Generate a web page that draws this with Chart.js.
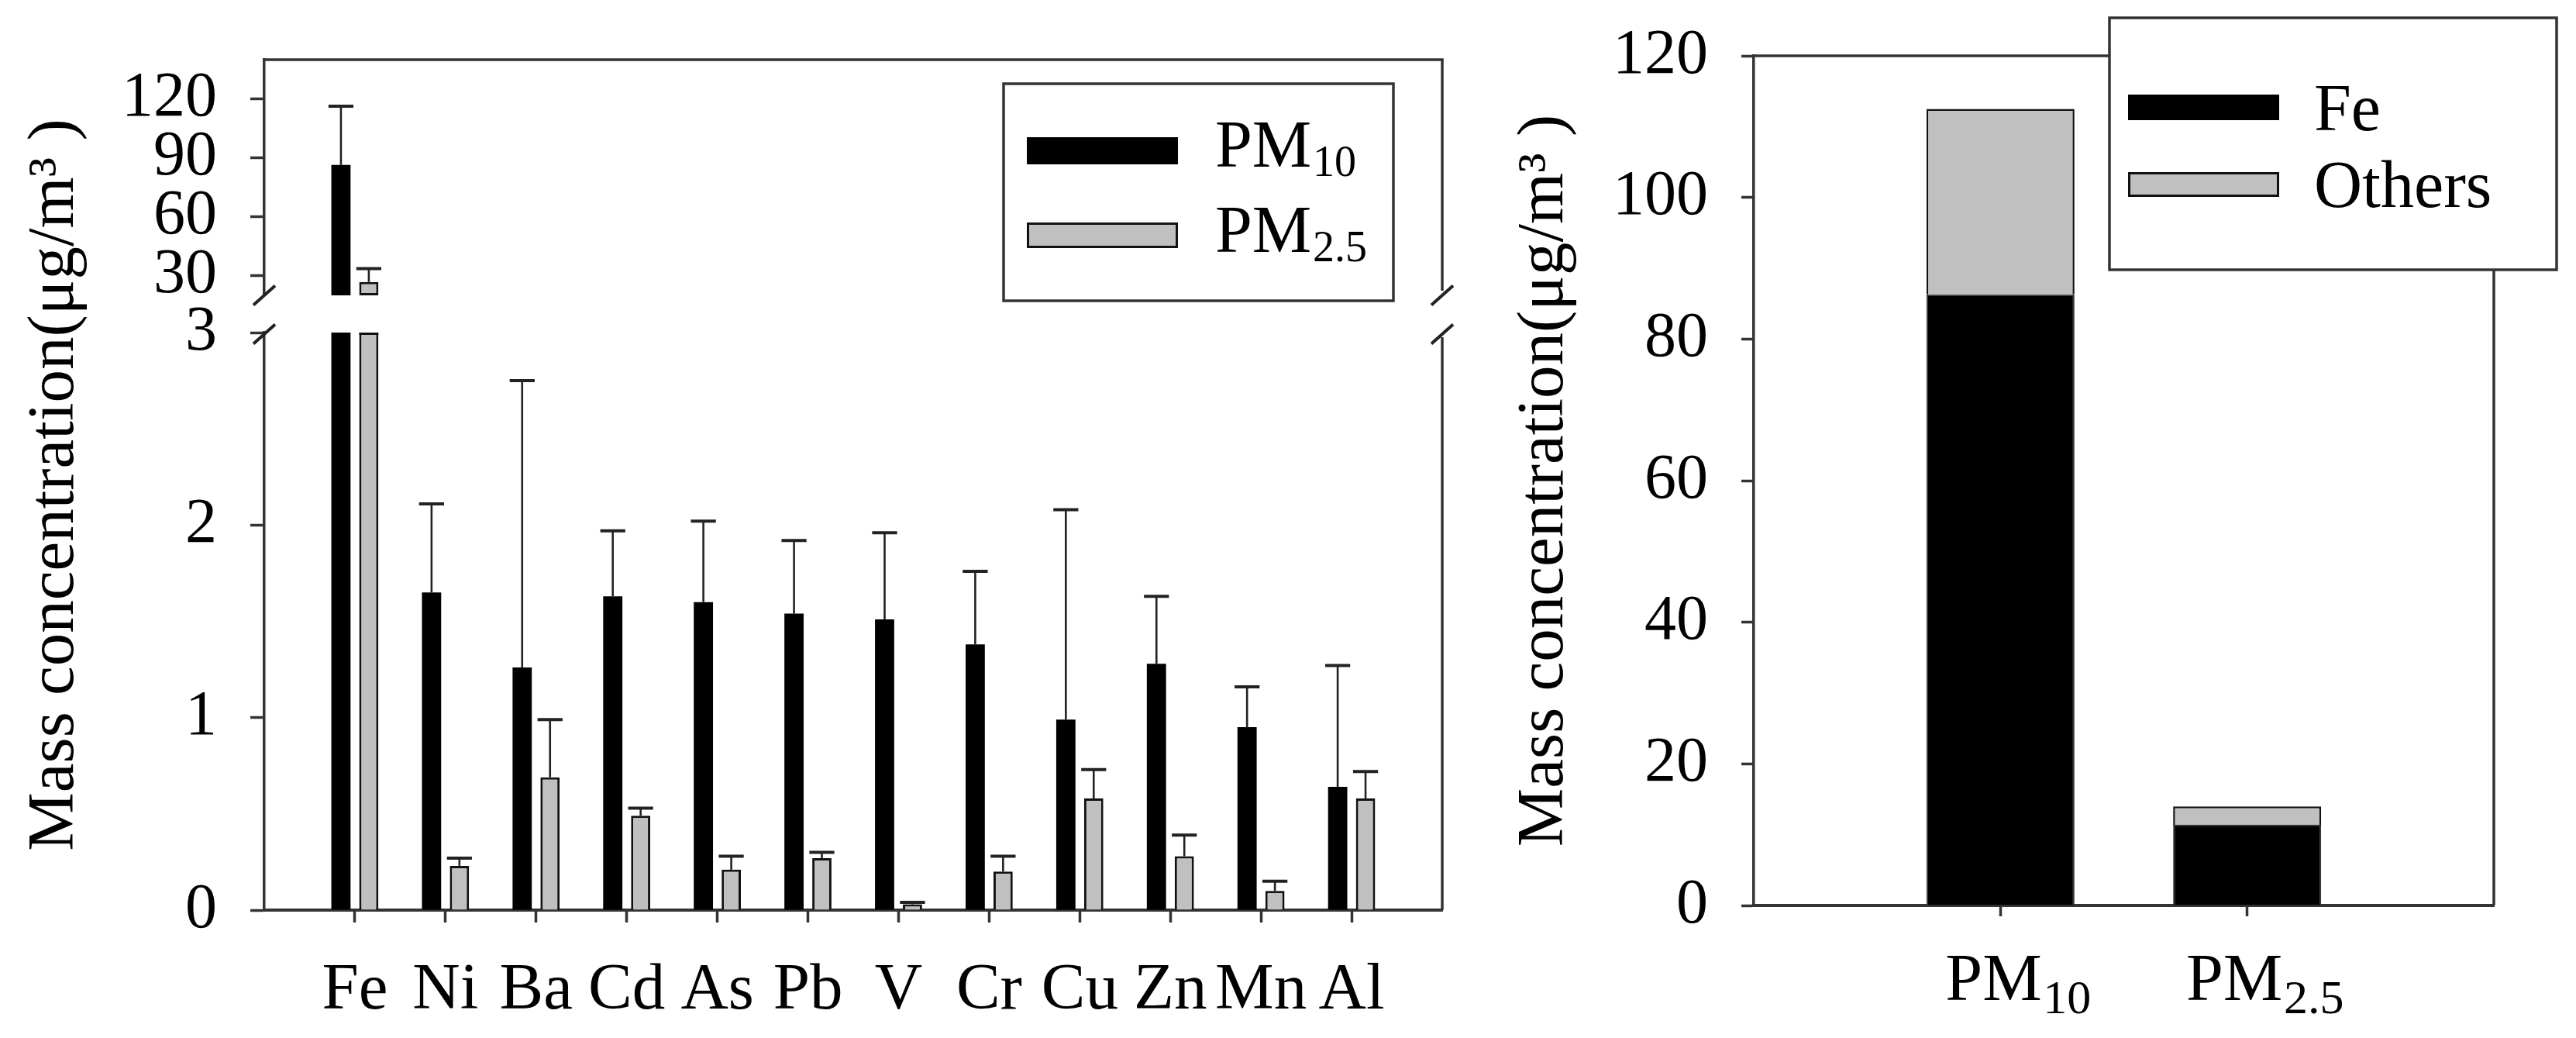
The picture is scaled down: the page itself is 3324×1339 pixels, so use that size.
<!DOCTYPE html>
<html><head><meta charset="utf-8">
<script src="https://cdn.jsdelivr.net/npm/chart.js@4.4.1/dist/chart.umd.min.js"></script>
<style>
html,body{margin:0;padding:0;background:#fff;width:3324px;height:1339px;overflow:hidden;}
canvas{position:absolute;top:0;}
#c1{left:0;}
#c2{left:1900px;}
</style></head><body>
<canvas id="c1" width="1900" height="1339"></canvas>
<canvas id="c2" width="1424" height="1339"></canvas>
<script>
// ---------------- data ----------------
const elements = ['Fe','Ni','Ba','Cd','As','Pb','V','Cr','Cu','Zn','Mn','Al'];
const seriesNames = ['PM10', 'PM2.5'];
const pm10Mean = [86.4, 1.65, 1.26, 1.63, 1.60, 1.54, 1.51, 1.38, 0.99, 1.28, 0.95, 0.64];
const pm10Sd   = [29.9, 0.46, 1.49, 0.34, 0.42, 0.38, 0.45, 0.38, 1.09, 0.35, 0.21, 0.63];
const pm25Mean = [26.8, 0.23, 0.69, 0.49, 0.21, 0.27, 0.03, 0.20, 0.58, 0.28, 0.10, 0.58];
const pm25Sd   = [6.8, 0.04, 0.30, 0.04, 0.07, 0.03, 0.01, 0.08, 0.15, 0.11, 0.05, 0.14];
const upperRange = [20, 140];
const lowerRange = [0, 3];
const upperTicks = [30, 60, 90, 120];
const lowerTicks = [0, 1, 2, 3];

const sizeFractions = ['PM10', 'PM2.5'];
const componentNames = ['Fe', 'Others'];
const feMass = [86.3, 11.4];
const othersMass = [26.2, 2.6];
const rightRange = [0, 120];
const rightTicks = [0, 20, 40, 60, 80, 100, 120];

const yTitleText = 'Mass concentration(\u03BCg/m\u00B3 )';

// ---------------- style ----------------
const FONT = "'Liberation Serif', 'Times New Roman', serif";
Chart.defaults.font.family = FONT;
Chart.defaults.color = '#000';
const BLACK = '#000000', GREY = '#c0c0c0', AXIS = '#333333';

function splitSub(t) {
  const m = String(t).match(/^([A-Za-z]+)(\d[\d.]*)?$/);
  return m ? [m[1], m[2] || ''] : [String(t), ''];
}
function drawRich(ctx, t, x, y, size, subSize, drop, align) {
  const [a, b] = splitSub(t);
  ctx.font = size + 'px ' + FONT;
  const wa = ctx.measureText(a).width;
  ctx.font = subSize + 'px ' + FONT;
  const wb = b ? ctx.measureText(b).width : 0;
  const gap = b ? size * 0.02 : 0;
  const x0 = align === 'center' ? x - (wa + gap + wb) / 2 : x;
  ctx.textAlign = 'left'; ctx.textBaseline = 'alphabetic'; ctx.fillStyle = '#000';
  ctx.font = size + 'px ' + FONT;
  ctx.fillText(a, x0, y);
  if (b) { ctx.font = subSize + 'px ' + FONT; ctx.fillText(b, x0 + wa + gap, y + drop); }
}
function line(ctx, x1, y1, x2, y2) { ctx.beginPath(); ctx.moveTo(x1, y1); ctx.lineTo(x2, y2); ctx.stroke(); }
const pts = arr => arr.map((v, i) => ({x: i + 1, y: v}));
// bars of the upper (broken) segment start at that segment's lower bound
const ptsFrom = (arr, base) => arr.map((v, i) => ({x: i + 1, y: v > base ? [base, v] : null}));
const topOf = y => Array.isArray(y) ? y[1] : y;

// clip each dataset to its own axis segment and draw its error bars
const segmentPlugin = {
  id: 'segments',
  beforeDatasetDraw(chart, args) {
    const ys = args.meta.yScale, a = chart.chartArea, ctx = chart.ctx;
    ctx.save();
    ctx.beginPath();
    ctx.rect(a.left - 60, ys.top, a.width + 120, ys.bottom - ys.top);
    ctx.clip();
  },
  afterDatasetDraw(chart, args) {
    const ctx = chart.ctx, meta = args.meta, ds = chart.data.datasets[args.index];
    const ys = meta.yScale;
    meta.data.forEach((bar, i) => {
      const raw = ds.data[i].y;
      if (raw == null) return;
      const v = topOf(raw);
      // bar cut by the axis break: close it with its outline at the segment top
      if (ds.borderWidth && v > ys.max) {
        ctx.strokeStyle = ds.borderColor; ctx.lineWidth = ds.borderWidth;
        line(ctx, bar.x - bar.width / 2, ys.top + ds.borderWidth / 2, bar.x + bar.width / 2, ys.top + ds.borderWidth / 2);
      }
      const sd = ds.errorBars ? ds.errorBars[i] : null;
      if (sd == null) return;
      const yTop = ys.getPixelForValue(v + sd);
      const half = bar.width * 0.65;
      ctx.strokeStyle = '#222'; ctx.lineCap = 'butt';
      ctx.lineWidth = 2.6; line(ctx, bar.x, ys.getPixelForValue(v), bar.x, yTop);
      ctx.lineWidth = 4; line(ctx, bar.x - half, yTop, bar.x + half, yTop);
    });
    ctx.restore();
  }
};

function makeLegend(cfg) {
  return {
    id: 'boxLegend',
    afterDraw(chart) {
      const ctx = chart.ctx;
      const [l, t, r, b] = cfg.box;
      ctx.save();
      ctx.fillStyle = '#fff'; ctx.fillRect(l, t, r - l, b - t);
      ctx.strokeStyle = AXIS; ctx.lineWidth = 3.5; ctx.strokeRect(l, t, r - l, b - t);
      const items = chart.data.datasets.filter(d => d.inLegend);
      items.forEach((d, k) => {
        const [sy, sh] = cfg.swatches[k];
        ctx.fillStyle = d.backgroundColor;
        ctx.fillRect(cfg.swatchX, sy, cfg.swatchW, sh);
        if (d.legendBorder) {
          const bw = d.legendBorder;
          ctx.strokeStyle = '#111'; ctx.lineWidth = bw;
          ctx.strokeRect(cfg.swatchX + bw / 2, sy + bw / 2, cfg.swatchW - bw, sh - bw);
        }
        drawRich(ctx, d.label, cfg.textX, cfg.baselines[k], cfg.size, cfg.subSize, cfg.drop, 'left');
      });
      ctx.restore();
    }
  };
}

// ---------------- left chart ----------------
const leftFrame = {
  id: 'leftFrame',
  afterDraw(chart) {
    const {ctx, chartArea: a, scales} = chart;
    const up = scales.yTop, low = scales.yLow;
    ctx.save();
    ctx.strokeStyle = AXIS; ctx.lineWidth = 3.5; ctx.lineCap = 'butt';
    line(ctx, a.left - 1.75, a.top, a.right + 1.75, a.top);
    line(ctx, a.right, a.top, a.right, up.bottom - 6);
    line(ctx, a.right, low.top + 6, a.right, a.bottom);
    ctx.strokeStyle = '#222'; ctx.lineWidth = 4;
    [a.left, a.right].forEach(x => {
      [up.bottom, low.top + 2].forEach(y => line(ctx, x - 14, y + 12.5, x + 14, y - 12.5));
    });
    ctx.restore();
  }
};

const yTickFont = {size: 82};
function segScale(range, ticks, weight) {
  return {
    type: 'linear', position: 'left', stack: 'left', stackWeight: weight, weight: 0,
    stacked: false,
    min: range[0], max: range[1],
    afterBuildTicks: s => { s.ticks = ticks.map(v => ({value: v})); },
    ticks: {font: yTickFont, padding: 43, color: '#000', autoSkip: false},
    grid: {display: true, drawOnChartArea: false, drawTicks: true, tickLength: 18, tickWidth: 3.5, tickColor: AXIS},
    border: {display: true, color: AXIS, width: 3.5},
    afterFit: s => { s.width = 211; s.paddingTop = 0; s.paddingBottom = 0; }
  };
}

new Chart(document.getElementById('c1'), {
  type: 'bar',
  data: {
    datasets: [
      {label: seriesNames[0], data: pts(pm10Mean), errorBars: pm10Sd, yAxisID: 'yLow', stack: 'a',
       backgroundColor: BLACK, borderWidth: 0, inLegend: true},
      {label: seriesNames[1], data: pts(pm25Mean), errorBars: pm25Sd, yAxisID: 'yLow', stack: 'b',
       backgroundColor: GREY, borderColor: '#111', borderWidth: 3, legendBorder: 3, inLegend: true},
      {label: seriesNames[0], data: ptsFrom(pm10Mean, upperRange[0]), errorBars: pm10Sd, yAxisID: 'yTop', stack: 'a',
       backgroundColor: BLACK, borderWidth: 0},
      {label: seriesNames[1], data: ptsFrom(pm25Mean, upperRange[0]), errorBars: pm25Sd, yAxisID: 'yTop', stack: 'b',
       backgroundColor: GREY, borderColor: '#111', borderWidth: 3, borderSkipped: false}
    ]
  },
  options: {
    responsive: false, animation: false, devicePixelRatio: 1, events: [],
    categoryPercentage: 0.615, barPercentage: 0.69,
    layout: {padding: {top: 77, right: 39, left: 0, bottom: 0}},
    plugins: {legend: {display: false}, tooltip: {enabled: false}, title: {display: false}},
    scales: {
      x: {
        type: 'linear', position: 'bottom', min: 0, max: elements.length + 1, offset: false,
        afterBuildTicks: s => { s.ticks = elements.map((e, i) => ({value: i + 1})); },
        ticks: {callback: v => elements[v - 1], font: {size: 85}, padding: 38, autoSkip: false,
                maxRotation: 0, minRotation: 0, color: '#000'},
        grid: {display: true, offset: false, drawOnChartArea: false, drawTicks: true, tickLength: 16, tickWidth: 3.5, tickColor: AXIS},
        border: {display: true, color: AXIS, width: 4},
        afterFit: s => { s.height = 165; s.paddingLeft = 0; s.paddingRight = 0; }
      },
      yLow: segScale(lowerRange, lowerTicks, 745),
      yGap: {
        type: 'linear', position: 'left', stack: 'left', stackWeight: 48, weight: 0,
        grid: {display: false, drawTicks: false}, border: {display: false}, ticks: {display: false},
        afterFit: s => { s.width = 211; s.paddingTop = 0; s.paddingBottom = 0; }
      },
      yTop: segScale(upperRange, upperTicks, 304),
      yTitle: {
        type: 'linear', position: 'left', weight: 10,
        grid: {display: false, drawTicks: false}, border: {display: false}, ticks: {display: false},
        title: {display: true, text: yTitleText, font: {size: 85}, color: '#000', padding: {top: 21, bottom: 0}},
        afterFit: s => { s.width = 130; s.paddingTop = 0; s.paddingBottom = 0; }
      }
    }
  },
  plugins: [segmentPlugin, leftFrame, makeLegend({
    box: [1295, 108, 1798, 388], swatchX: 1325, swatchW: 195,
    swatches: [[177, 35], [287, 33]], textX: 1568, baselines: [215, 325],
    size: 86, subSize: 56, drop: 12
  })]
});

// ---------------- right chart ----------------
const rightFrame = {
  id: 'rightFrame',
  afterDraw(chart) {
    const {ctx, chartArea: a, scales} = chart;
    ctx.save();
    ctx.strokeStyle = AXIS; ctx.lineWidth = 3.5;
    line(ctx, a.left - 1.75, a.top, a.right + 1.75, a.top);
    line(ctx, a.right, a.top, a.right, a.bottom);
    // x tick labels with subscripts, positioned by the x scale
    const xs = scales.x;
    xs.ticks.forEach(t => {
      const x = xs.getPixelForValue(t.value) + 23;
      drawRich(ctx, t.label, x, a.bottom + 122, 86, 62, 17, 'center');
    });
    ctx.restore();
  }
};

new Chart(document.getElementById('c2'), {
  type: 'bar',
  data: {
    datasets: [
      {label: componentNames[0], data: pts(feMass), stack: 's',
       backgroundColor: BLACK, borderColor: '#333', borderWidth: 2, inLegend: true},
      {label: componentNames[1], data: pts(othersMass), stack: 's',
       backgroundColor: GREY, borderColor: '#111', borderWidth: 2.5, legendBorder: 3, inLegend: true}
    ]
  },
  options: {
    responsive: false, animation: false, devicePixelRatio: 1, events: [],
    categoryPercentage: 1, barPercentage: 0.6,
    layout: {padding: {top: 72, right: 106, left: 0, bottom: 0}},
    plugins: {legend: {display: false}, tooltip: {enabled: false}, title: {display: false}},
    scales: {
      x: {
        type: 'linear', position: 'bottom', min: 0, max: sizeFractions.length + 1, stacked: true, offset: false,
        afterBuildTicks: s => { s.ticks = sizeFractions.map((e, i) => ({value: i + 1})); },
        ticks: {display: false, callback: v => sizeFractions[v - 1]},
        grid: {display: true, offset: false, drawOnChartArea: false, drawTicks: true, tickLength: 14, tickWidth: 3.5, tickColor: AXIS},
        border: {display: true, color: AXIS, width: 4},
        afterFit: s => { s.height = 171; s.paddingLeft = 0; s.paddingRight = 0; }
      },
      y: {
        type: 'linear', position: 'left', stacked: true, min: rightRange[0], max: rightRange[1],
        afterBuildTicks: s => { s.ticks = rightTicks.map(v => ({value: v})); },
        ticks: {font: yTickFont, padding: 43, color: '#000', autoSkip: false},
        grid: {display: true, drawOnChartArea: false, drawTicks: true, tickLength: 16, tickWidth: 3.5, tickColor: AXIS},
        border: {display: true, color: AXIS, width: 3.5},
        title: {display: true, text: yTitleText, font: {size: 85}, color: '#000', padding: {top: 43, bottom: 0}},
        afterFit: s => { s.width = 363; s.paddingTop = 0; s.paddingBottom = 0; }
      }
    }
  },
  plugins: [rightFrame, makeLegend({
    box: [822, 23, 1399, 348], swatchX: 846, swatchW: 195,
    swatches: [[122, 33], [222, 32]], textX: 1086, baselines: [168, 267],
    size: 86, subSize: 56, drop: 12
  })]
});
</script>
</body></html>
